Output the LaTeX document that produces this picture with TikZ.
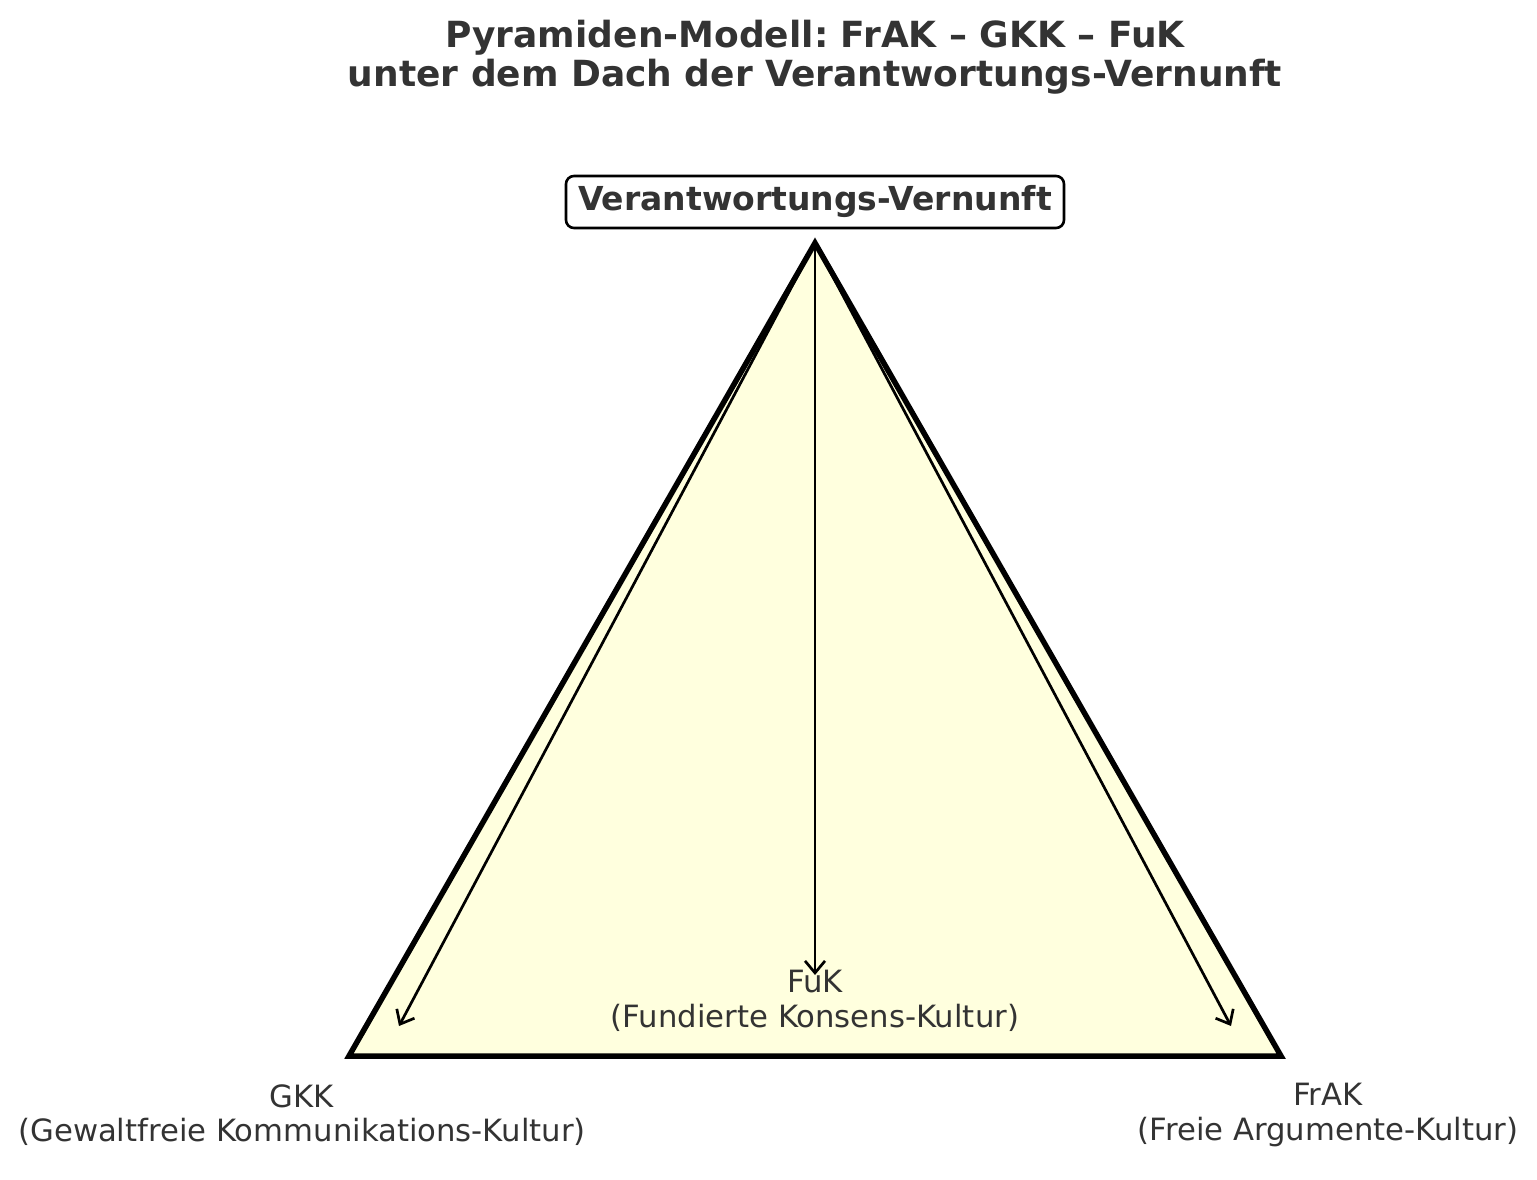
\documentclass[tikz,border=0pt]{standalone}
\usepackage{fontspec}
\setmainfont{DejaVu Sans}
\usetikzlibrary{arrows.meta}
\frenchspacing
\definecolor{txt}{HTML}{333333}
\definecolor{pyr}{HTML}{FFFFDE}
\tikzset{
  pyramid/.style={draw=black, line width=5.5pt, fill=pyr, line join=miter},
  flow/.style={draw=black, line width=2.7pt, -{Straight Barb[length=12pt,width=20pt,line width=2.7pt]}},
  lbl/.style={text=txt, align=center, inner sep=0pt, font=\fontsize{30.7}{34.5}\selectfont},
  ttl/.style={text=txt, align=center, inner sep=0pt, font=\fontsize{36}{39}\selectfont\bfseries},
  roof/.style={text=txt, draw=black, line width=2.6pt, rounded corners=8pt, fill=white,
    inner xsep=10pt, inner ysep=8pt, minimum width=498pt, minimum height=52pt,
    font=\fontsize{33}{38}\selectfont\bfseries}
}
\begin{document}
\begin{tikzpicture}[x=1pt,y=-1pt]
\useasboundingbox (0,0) rectangle (1537,1180);
\coordinate (A) at (815,243);
\coordinate (L) at (349,1056);
\coordinate (R) at (1281,1056);
\draw[pyramid] (A) -- (L) -- (R) -- cycle;
\coordinate (eL) at (399,1026);
\coordinate (eM) at (815,975);
\coordinate (eR) at (1231,1026);
\draw[flow] (A) -- (eL);
\draw[flow] (A) -- (eM);
\draw[flow] (A) -- (eR);
\node[ttl] (title) at (815,57) {Pyramiden-Modell: FrAK – GKK – FuK\\unter dem Dach der Verantwortungs-Vernunft};
\node[roof] (vv) at (815,202) {Verantwortungs-Vernunft};
\node[lbl] (gkk) at (302,1115) {GKK\\(Gewaltfreie Kommunikations-Kultur)};
\node[lbl] (frak) at (1328,1115) {FrAK\\(Freie Argumente-Kultur)};
\node[lbl] (fuk) at (815,1001) {FuK\\(Fundierte Konsens-Kultur)};
\end{tikzpicture}
\end{document}
